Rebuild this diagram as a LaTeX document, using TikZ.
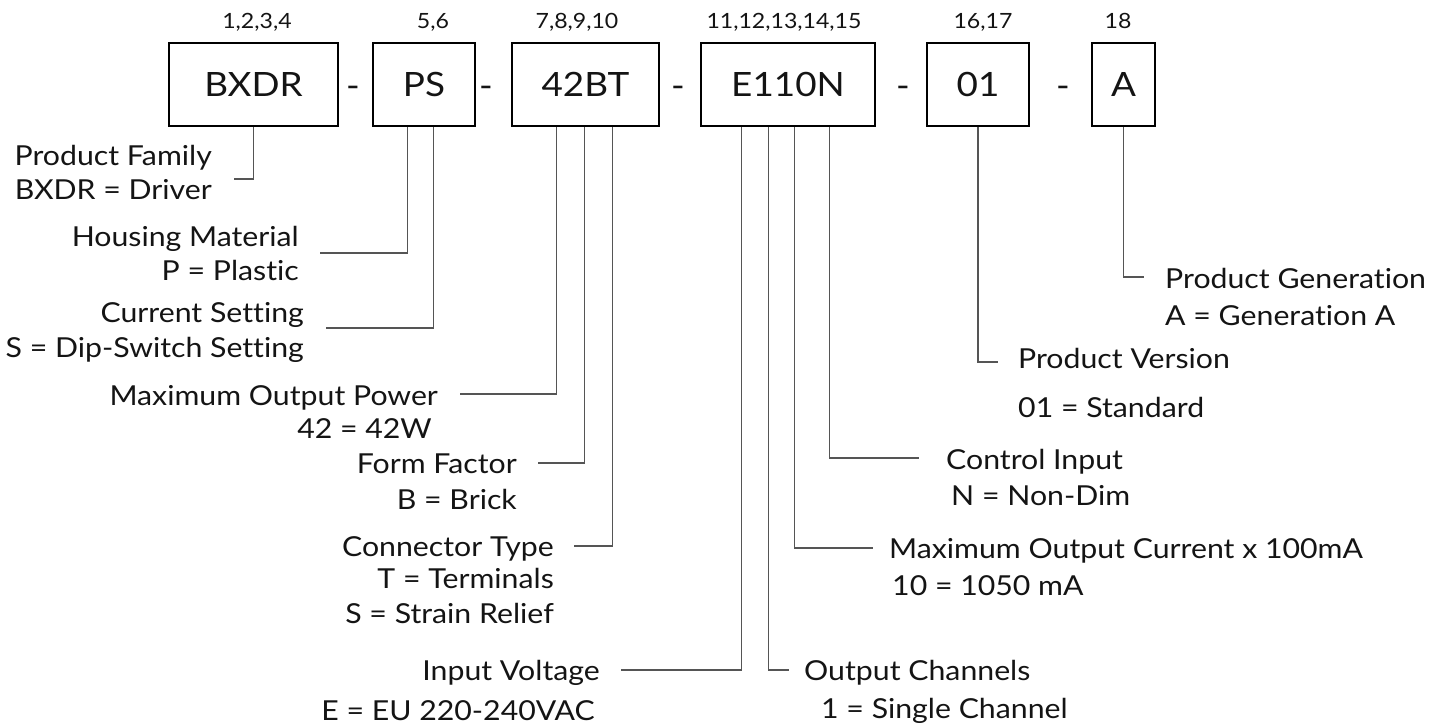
\documentclass[tikz,border=0pt]{standalone}
\usepackage{fontspec}
\setmainfont{Lato}[FakeStretch=1.1,Ligatures=NoCommon]
\definecolor{wiregray}{RGB}{85,85,85}
\definecolor{ink}{RGB}{20,20,20}
\begin{document}
\begin{tikzpicture}[x=1pt,y=-1pt,
  codebox/.style={draw=black,line width=2.6pt,inner sep=0pt,minimum height=83pt,text height=24pt,text depth=0pt,text=ink,font=\fontsize{33.5}{36}\selectfont},
  dashsep/.style={inner sep=0pt,anchor=base,text=ink,font=\fontsize{33.5}{36}\selectfont},
  poslbl/.style={inner sep=0pt,anchor=base,text=ink,font=\fontsize{21}{24}\selectfont},
  lbl/.style={inner sep=0pt,text=ink,font=\fontsize{27.5}{30}\selectfont},
  lr/.style={lbl,anchor=base east},
  ll/.style={lbl,anchor=base west},
  wire/.style={draw=wiregray,line width=1.5pt}
]
\useasboundingbox (0,0) rectangle (1445,727);

% code boxes
\node[codebox,minimum width=169pt] (bxdr) at (253.5,84.5) {BXDR};
\node[codebox,minimum width=102pt] (ps)   at (424,84.5) {PS};
\node[codebox,minimum width=147pt] (bt)   at (585.5,84.5) {42BT};
\node[codebox,minimum width=174pt] (en)   at (788,84.5) {E110N};
\node[codebox,minimum width=102pt] (ver)  at (978,84.5) {01};
\node[codebox,minimum width=63pt]  (gen)  at (1123.5,84.5) {A};

% separators
\node[dashsep] (d1) at (353,98) {-};
\node[dashsep] (d2) at (486,98) {-};
\node[dashsep] (d3) at (678,98) {-};
\node[dashsep] (d4) at (903,98) {-};
\node[dashsep] (d5) at (1063,98) {-};

% positions
\node[poslbl] (p1) at (257,29) {1,2,3,4};
\node[poslbl] (p2) at (433,29) {5,6};
\node[poslbl] (p3) at (577,29) {7,8,9,10};
\node[poslbl] (p4) at (784,29) {11,12,13,14,15};
\node[poslbl] (p5) at (983,29) {16,17};
\node[poslbl] (p6) at (1118,29) {18};

% left labels
\node[lr] (fam1) at (212,166) {Product Family};
\node[lr] (fam2) at (212,200) {BXDR = Driver};
\node[lr] (hou1) at (299,247) {Housing Material};
\node[lr] (hou2) at (299,280) {P = Plastic};
\node[lr] (set1) at (304,322) {Current Setting};
\node[lr] (set2) at (304,357) {S = Dip-Switch Setting};
\node[lr] (pow1) at (438,405) {Maximum Output Power};
\node[lr] (pow2) at (432,438) {42 = 42W};
\node[lr] (frm1) at (517,473) {Form Factor};
\node[lr] (frm2) at (517,509) {B = Brick};
\node[lr] (con1) at (554,556) {Connector Type};
\node[lr] (con2) at (554,588) {T = Terminals};
\node[lr] (con3) at (554,623) {S = Strain Relief};
\node[lr] (inv1) at (600,680) {Input Voltage};
\node[lr] (inv2) at (595,720) {E = EU 220-240VAC};

% right labels
\node[ll] (gen1) at (1165,288) {Product Generation};
\node[ll] (gen2) at (1165,325) {A = Generation A};
\node[ll] (ver1) at (1018,368) {Product Version};
\node[ll] (ver2) at (1018,417) {01 = Standard};
\node[ll] (ctl1) at (946,469) {Control Input};
\node[ll] (ctl2) at (951,505) {N = Non-Dim};
\node[ll] (moc1) at (889,558) {Maximum Output Current x 100mA};
\node[ll] (moc2) at (892,595) {10 = 1050 mA};
\node[ll] (och1) at (804,680) {Output Channels};
\node[ll] (och2) at (821,718) {1 = Single Channel};

% connector ends
\coordinate (eFam) at (234,179);
\coordinate (eHou) at (320,253);
\coordinate (eSet) at (326,328);
\coordinate (ePow) at (460,394);
\coordinate (eFrm) at (538,463);
\coordinate (eCon) at (574,546);
\coordinate (eInv) at (621,670);
\coordinate (eOch) at (789,670);
\coordinate (eMoc) at (873,548);
\coordinate (eCtl) at (919,458);
\coordinate (eVer) at (998,362);
\coordinate (eGen) at (1144,277);

% connectors
\draw[wire] (bxdr.south) |- (eFam);
\draw[wire] ([xshift=36pt]ps.south west) |- (eHou);
\draw[wire] ([xshift=62pt]ps.south west) |- (eSet);
\draw[wire] ([xshift=46pt]bt.south west) |- (ePow);
\draw[wire] ([xshift=74pt]bt.south west) |- (eFrm);
\draw[wire] ([xshift=102pt]bt.south west) |- (eCon);
\draw[wire] ([xshift=42pt]en.south west) |- (eInv);
\draw[wire] ([xshift=69pt]en.south west) |- (eOch);
\draw[wire] ([xshift=95pt]en.south west) |- (eMoc);
\draw[wire] ([xshift=130pt]en.south west) |- (eCtl);
\draw[wire] (ver.south) |- (eVer);
\draw[wire] (gen.south) |- (eGen);
\end{tikzpicture}
\end{document}
